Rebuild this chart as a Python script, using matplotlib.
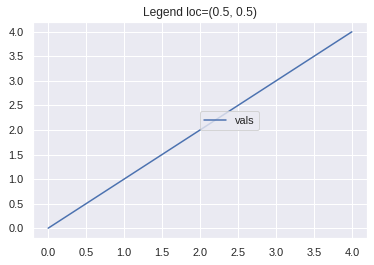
import matplotlib
matplotlib.use('Agg')
import matplotlib.pyplot as plt
import seaborn as sns

# data
x_vals = [0, 1, 2, 3, 4]
y_vals = [0, 1, 2, 3, 4]
series_name = 'vals'

sns.set_theme()
plt.rcParams['font.family'] = ['Liberation Sans', 'DejaVu Sans']

fig = plt.figure(figsize=(374 / 72, 265 / 72), dpi=72)
ax = fig.add_axes([33 / 374, 1 - 238 / 265, 334 / 374, 216 / 265])

ax.plot(x_vals, y_vals, label=series_name)
ax.set_title('Legend loc=(0.5, 0.5)', fontsize=12)
ax.set_xticks([0, 0.5, 1, 1.5, 2, 2.5, 3, 3.5, 4])
ax.set_yticks([0, 0.5, 1, 1.5, 2, 2.5, 3, 3.5, 4])
ax.legend(loc=(0.5, 0.5))

fig.savefig('out.png', dpi=72)
